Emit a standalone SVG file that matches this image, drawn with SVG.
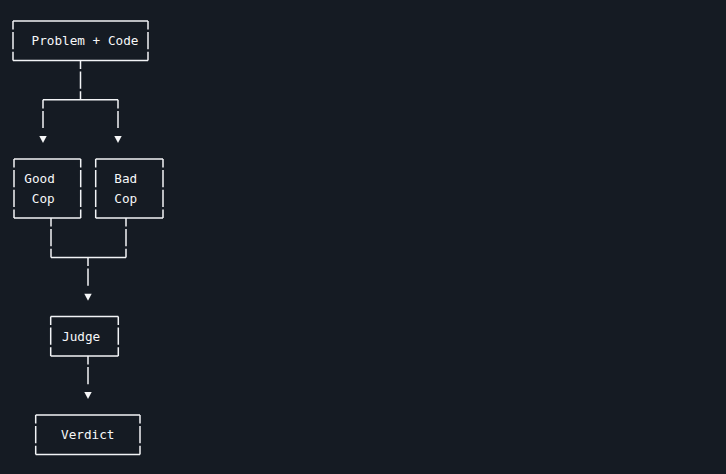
<svg xmlns="http://www.w3.org/2000/svg" width="726" height="474" viewBox="0 0 726 474">
<style>
.h{stroke:#f2f4f6;stroke-width:1.5;fill:none}
.v{stroke:#f2f4f6;stroke-width:1.5;fill:none;stroke-dasharray:17.2 2.5;stroke-dashoffset:8.6}
.t{font-family:"DejaVu Sans Mono","Liberation Mono",monospace;font-size:12.7px;fill:#f6f7f8}
.a{fill:#f6f7f8}
</style>
<rect width="726" height="474" fill="#151b23"/>
<g id="problem">
<path class="h" d="M13 21H148M13 60.4H148"/>
<path class="v" d="M13 21V60.4M148 21V60.4"/>
<text class="t" x="31.5" y="45.4">Problem + Code</text>
</g>
<g id="goodcop">
<path class="h" d="M14 158.9H80.7M14 218H80.7"/>
<path class="v" d="M14 158.9V218M80.7 158.9V218"/>
<text class="t" x="24.3" y="183.3">Good</text>
<text class="t" x="31.8" y="203">Cop</text>
</g>
<g id="badcop">
<path class="h" d="M95.7 158.9H163M95.7 218H163"/>
<path class="v" d="M95.7 158.9V218M163 158.9V218"/>
<text class="t" x="114.3" y="183.3">Bad</text>
<text class="t" x="114.3" y="203">Cop</text>
</g>
<g id="judge">
<path class="h" d="M50.7 316.5H118.3M50.7 355.9H118.3"/>
<path class="v" d="M50.7 316.5V355.9M118.3 316.5V355.9"/>
<text class="t" x="62" y="340.9">Judge</text>
</g>
<g id="verdict">
<path class="h" d="M35.7 415H140M35.7 454.4H140"/>
<path class="v" d="M35.7 415V454.4M140 415V454.4"/>
<text class="t" x="61" y="439.4">Verdict</text>
</g>
<g id="connectors">
<path class="v" d="M80.5 60.4V99.8"/>
<path class="h" d="M43 99.8H118"/>
<path class="v" d="M43 99.8V128.1M118 99.8V128.1"/>
<path class="a" d="M39.3 135.9H46.7L43 142.9Z"/>
<path class="a" d="M114.3 135.9H121.7L118 142.9Z"/>
<path class="v" d="M51 218V257.4M126 218V257.4"/>
<path class="h" d="M51 257.4H126"/>
<path class="v" d="M88 257.4V285.7"/>
<path class="a" d="M84.3 293.8H91.7L88 300.8Z"/>
<path class="v" d="M88 355.9V384.2"/>
<path class="a" d="M84.3 392H91.7L88 399Z"/>
</g>
</svg>
